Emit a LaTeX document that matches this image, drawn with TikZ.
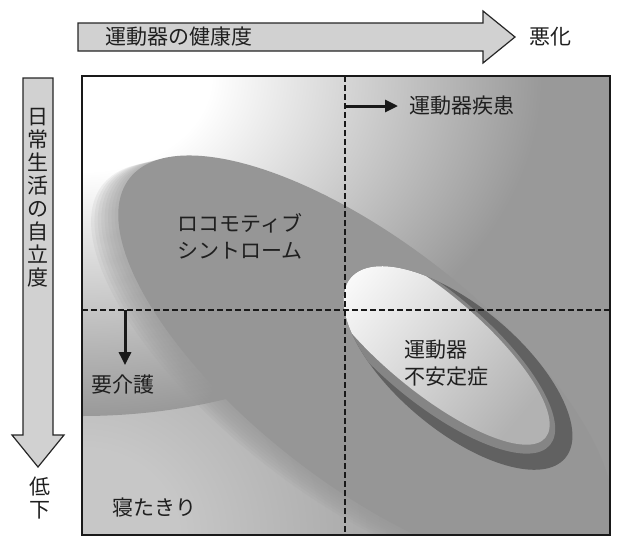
\documentclass[tikz,border=0pt]{standalone}
\usepackage{fontspec}
\newfontfamily\jp{Noto Sans CJK JP}
\usetikzlibrary{arrows.meta}
\colorlet{bggray}{black!40}
\colorlet{glowwhite}{white}
\colorlet{glowlow}{black!22}
\pgfdeclareradialshading{cornerglow}{\pgfpointorigin}{color(0bp)=(glowwhite); color(7bp)=(glowwhite); color(25bp)=(bggray); color(50bp)=(bggray)}
\pgfdeclareradialshading{lowglow}{\pgfpointorigin}{color(0bp)=(glowlow); color(6bp)=(glowlow); color(25bp)=(bggray); color(50bp)=(bggray)}
\begin{document}
\begin{tikzpicture}[x=1pt,y=-1pt,
  txt/.style={font=\jp\fontsize{21}{27}\selectfont, text=black!88, inner sep=0pt},
  vtxt/.style={font=\jp\fontsize{21}{23}\selectfont, text=black!88, inner sep=0pt, align=center},
  blockarrow/.style={draw=black!85, line width=1.2pt, fill=black!18, line join=miter},
  divider/.style={draw=black!90, line width=2pt, dash pattern=on 6pt off 3pt},
  pointer/.style={draw=black!90, line width=3pt, -{Triangle[length=13pt,width=12pt]}},
  frame/.style={draw=black!90, line width=2pt},
  loco/.style={fill=black!41, rotate around={-38:(366,363)}},
]
\useasboundingbox (0,0) rectangle (618,539);

% ---------- background of the chart ----------
\coordinate (bl) at (82,535);
\coordinate (tr) at (610,76);
\begin{scope}
  \clip (82,76) rectangle (610,535);
  \fill[bggray] (82,76) rectangle (610,535);
  \shade[shading=lowglow] (82,535) ellipse [x radius=400, y radius=360];
  \shade[shading=cornerglow] (82,76) ellipse [x radius=460, y radius=340];
  % locomotive syndrome region (large ellipse, soft lower edge)
  \foreach \k in {8,7,...,1}{
    \fill[loco, opacity=0.12] ({366-0.616*3.5*\k},{363+0.788*3.5*\k}) ellipse [x radius=300, y radius=120];
  }
  \fill[loco] (366,363) ellipse [x radius=300, y radius=120];
  % locomotor instability (inner ellipse with shadow)
  \fill[black!62, rotate around={-40:(458,368)}] (458,368) ellipse [x radius=140, y radius=62];
  \begin{scope}
    \clip[rotate around={-40:(458,368)}] (458,368) ellipse [x radius=140, y radius=62];
    \fill[black!48, rotate around={-40:(432,346)}] (432,346) ellipse [x radius=154, y radius=55];
    \shade[top color=white, middle color=black!6, bottom color=black!30, shading angle=50,
           rotate around={-40:(429,340)}] (429,340) ellipse [x radius=152, y radius=49];
  \end{scope}
\end{scope}

% ---------- quadrant dividers ----------
\coordinate (vtop) at (345,76);
\coordinate (vbot) at (345,535);
\coordinate (hleft) at (82,310);
\coordinate (hright) at (610,310);
\draw[divider] (vtop) -- (vbot);
\draw[divider] (hleft) -- (hright);
\draw[frame] (bl) rectangle (tr);

% ---------- axis arrows ----------
\draw[blockarrow] (78,23) -- (483,23) -- (483,11) -- (515,37) -- (483,63) -- (483,51) -- (78,51) -- cycle;
\draw[blockarrow] (23,78) -- (53,78) -- (53,435) -- (64,435) -- (38,467) -- (12,435) -- (23,435) -- cycle;

% ---------- texts ----------
\node[txt] (health) at (179,37) {運動器の健康度};
\node[txt] (worse) at (550,37) {悪化};
\node[vtxt] (indep) at (38,198) {日\\常\\生\\活\\の\\自\\立\\度};
\node[vtxt] (decline) at (40,498.5) {低\\下};
\node[txt, anchor=west] (disease) at (409,106) {運動器疾患};
\node[txt, align=center] (locotext) at (240,236.5) {ロコモティブ\\シントローム};
\node[txt, align=left, anchor=west] (unstable) at (404,363.5) {運動器\\不安定症};
\node[txt, anchor=west] (care) at (91,385) {要介護};
\node[txt, anchor=west] (bed) at (112,507) {寝たきり};

% ---------- pointers ----------
\coordinate (pv) at (345,106);
\coordinate (ph) at (125,310);
\draw[pointer, shorten >=11pt] (pv) -- (disease.west);
\draw[pointer, shorten >=10pt] (ph) -- (care.north -| ph);
\end{tikzpicture}
\end{document}
